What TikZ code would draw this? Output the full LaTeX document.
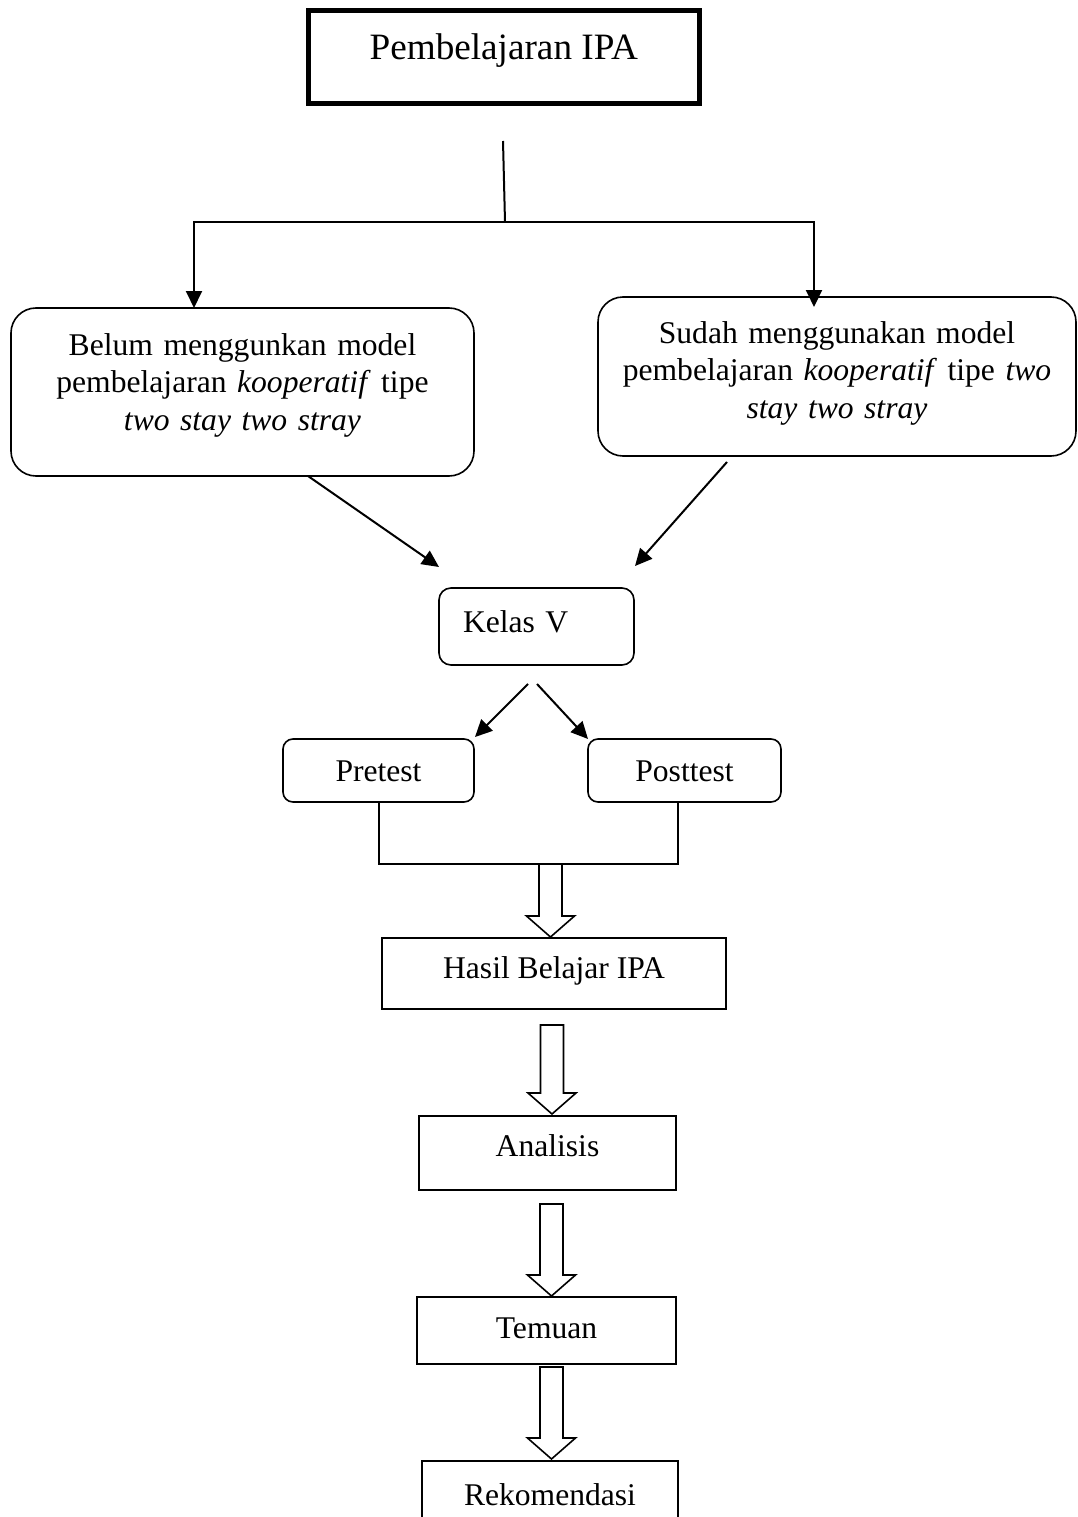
\documentclass[tikz,border=0pt]{standalone}
\usepackage{fontspec}
\setmainfont{Liberation Serif}
\usetikzlibrary{arrows.meta,calc}

\tikzset{
  box/.style={draw, line width=1.6pt, inner sep=0pt, outer sep=0pt,
    font=\fontsize{31.6}{37.5}\selectfont, text height=21pt},
  rbox/.style={box, rounded corners=#1},
  rbox/.default=12pt,
  hollow/.style={draw, line width=1.6pt},
  line/.style={line width=2pt},
  arr/.style={line, -{Triangle[length=17pt,width=16pt]}}
}
% shaft top, tip
\newcommand{\blockarrow}[2]{%
  \draw[hollow] ($(#1)+(-11.5,0)$) -- ($(#2)+(-11.5,-21)$) -- ($(#2)+(-24,-21)$) -- (#2)
    -- ($(#2)+(24,-21)$) -- ($(#2)+(11.5,-21)$) -- ($(#1)+(11.5,0)$) -- cycle;}

\begin{document}
\begin{tikzpicture}[x=1pt,y=-1pt]
\useasboundingbox (0,0) rectangle (1077,1517);
% boxes
\node[box, line width=5pt, minimum width=391.5pt, minimum height=93pt,
  font=\fontsize{37.2}{44}\selectfont, text height=25pt, text depth=20pt] (ipa) at (503.75,57.5) {Pembelajaran IPA};
\node[rbox=25pt, minimum width=463pt, minimum height=168pt, text width=450pt, align=center,
  text height=22pt, text depth=96pt] (belum) at (242.5,392)
  {Belum menggunkan model\\ pembelajaran \textit{kooperatif} tipe\\ \textit{two stay two stray}};
\node[rbox=25pt, minimum width=478pt, minimum height=159pt, text width=470pt, align=center,
  text height=22pt, text depth=89pt] (sudah) at (837,376.5)
  {Sudah menggunakan model\\ pembelajaran \textit{kooperatif} tipe \textit{two}\\ \textit{stay two stray}};
\node[rbox=12pt, minimum width=195pt, minimum height=77pt, text width=147pt, align=left,
  text depth=10pt] (kelas) at (536.5,626.5) {Kelas V};
\node[rbox=10pt, minimum width=191pt, minimum height=63pt, text depth=0pt] (pre) at (378.5,770.5) {Pretest};
\node[rbox=10pt, minimum width=193pt, minimum height=63pt, text depth=0pt] (post) at (684.5,770.5) {Posttest};
\node[box, minimum width=344pt, minimum height=71pt, text depth=12pt] (hasil) at (554,973.5) {Hasil Belajar IPA};
\node[box, minimum width=257pt, minimum height=74pt, text depth=15pt] (analisis) at (547.5,1153) {Analisis};
\node[box, minimum width=259pt, minimum height=67pt, text depth=6pt] (temuan) at (546.5,1330.5) {Temuan};
\node[box, minimum width=256pt, minimum height=69pt, text depth=2pt] (rekom) at (550,1495.5) {Rekomendasi};

% fork under the title
\coordinate (stem) at (503,141);
\coordinate (fork) at (505,222);
\coordinate (forkL) at (194,222);
\coordinate (forkR) at (814,222);
\draw[line] (stem) -- (fork);
\draw[arr] (fork) -| (forkL |- belum.north);
\draw[arr] (fork) -| ($(forkR |- sudah.north)+(0,10)$);

% into and out of Kelas V
\draw[arr] ($(belum.south)+(65.5,0)$) -- ($(kelas.north west)+(0,-21)$);
\draw[arr] ($(sudah.south)+(-110,6)$) -- ($(kelas.north east)+(1,-22)$);
\draw[arr] ($(kelas.south)+(-8.5,19)$) -- ($(pre.north east)+(1,-2)$);
\draw[arr] ($(kelas.south)+(0.5,19)$) -- (post.north west);
\draw[line] (pre.south) -- ++(0,62) -| ($(post.south)+(-6.5,0)$);

% block arrows
\coordinate (a1) at (550.5,864);  \coordinate (a1e) at (550.5,937);
\coordinate (a2) at (552,1025);   \coordinate (a2e) at (552,1114);
\coordinate (a3) at (551.5,1204); \coordinate (a3e) at (551.5,1296);
\coordinate (a4) at (551.5,1367); \coordinate (a4e) at (551.5,1459);
\blockarrow{a1}{a1e}
\blockarrow{a2}{a2e}
\blockarrow{a3}{a3e}
\blockarrow{a4}{a4e}
\end{tikzpicture}
\end{document}
